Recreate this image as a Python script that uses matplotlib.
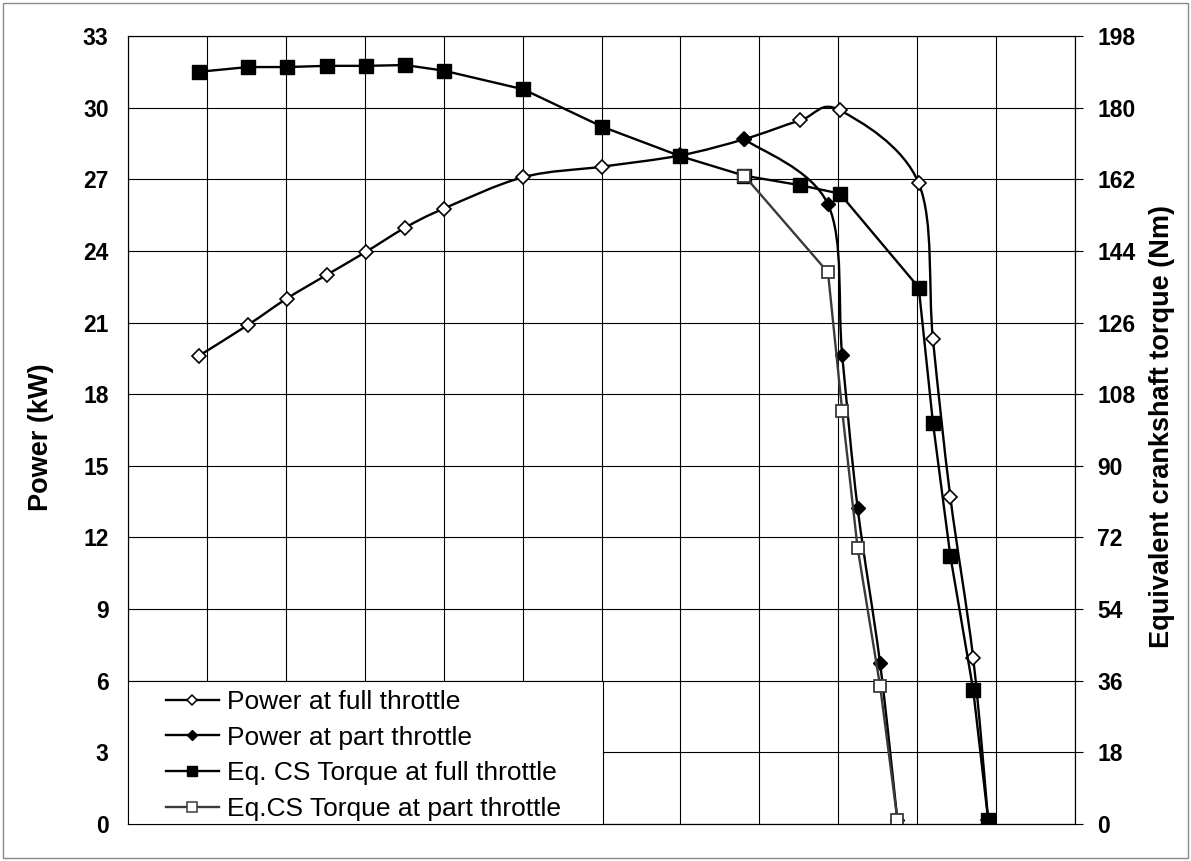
import matplotlib
matplotlib.use("Agg")
import matplotlib.pyplot as plt
import numpy as np
from matplotlib.lines import Line2D
from matplotlib.patches import PathPatch, Rectangle
from matplotlib.path import Path

plt.rcParams["font.family"] = "Liberation Sans"

# Values (x is in grid-line units, the chart shows no speed labels)
x_full = [0.895, 1.52, 2.01, 2.52, 3.01, 3.51, 4.00, 5.01, 6.01, 7.00, 7.81, 8.52,
          9.02, 10.02, 10.20, 10.42, 10.71, 10.90]
power_full = [19.6, 20.9, 22.0, 23.0, 23.95, 24.97, 25.77, 27.09, 27.53, 28.0, 28.68, 29.47,
              29.89, 26.83, 20.3, 13.7, 6.94, 0.15]
torque_full = [189.0, 190.2, 190.2, 190.5, 190.5, 190.7, 189.3, 184.6, 175.2, 167.8, 162.9, 160.5,
               158.4, 134.8, 100.8, 67.4, 33.7, 1.0]

x_part = [7.81, 8.87, 9.05, 9.245, 9.53, 9.75]
power_part = [28.68, 25.95, 19.63, 13.25, 6.73, 0.15]
torque_part = [162.9, 138.6, 103.8, 69.4, 34.7, 1.0]

power_ticks = np.arange(0, 34, 3)
torque_ticks = np.arange(0, 199, 18)

labels = ["Power at full throttle", "Power at part throttle",
          "Eq. CS Torque at full throttle", "Eq.CS Torque at part throttle"]


# Excel-style smoothed line: Catmull-Rom segments drawn as cubic Bezier curves
def smooth_path(x, y):
    pts = np.column_stack([x, y])
    n = len(pts)
    verts = [pts[0]]
    codes = [Path.MOVETO]
    for i in range(n - 1):
        p0 = pts[max(i - 1, 0)]
        p1 = pts[i]
        p2 = pts[i + 1]
        p3 = pts[min(i + 2, n - 1)]
        verts += [p1 + (p2 - p0) / 6, p2 - (p3 - p1) / 6, p2]
        codes += [Path.CURVE4] * 3
    return Path(verts, codes)


fig = plt.figure(figsize=(11.91, 8.61), dpi=100)
ax = fig.add_axes([128 / 1191, 37 / 861, 947 / 1191, 788 / 861])
ax2 = ax.twinx()

# power curves (left axis)
ax.add_patch(PathPatch(smooth_path(x_full, power_full), fill=False, ec="black", lw=1.7))
ax.plot(x_full, power_full, ls="none", marker="D", ms=7, mfc="white", mec="black", mew=1.2)
ax.add_patch(PathPatch(smooth_path(x_part, power_part), fill=False, ec="black", lw=1.7))
ax.plot(x_part, power_part, ls="none", marker="D", ms=6.8, mfc="black", mec="black", mew=1.0)

# torque curves (right axis)
ax2.plot(x_full, torque_full, color="black", lw=1.7, marker="s", ms=10, mfc="black", mec="black")
ax2.plot(x_part, torque_part, color="#3a3a3a", lw=1.7, marker="s", ms=9.3,
         mfc="white", mec="#3a3a3a", mew=1.3)

ax.set_xlim(0, 12)
ax.set_xticks(range(13))
ax.tick_params(axis="x", length=0, labelbottom=False)
ax.set_ylim(0, 33)
ax.set_yticks(power_ticks)
ax.tick_params(axis="y", length=0, pad=14, labelsize=16.5)
ax.grid(True, color="black", lw=0.8)
ax.set_axisbelow(True)

ax2.set_ylim(0, 198)
ax2.set_yticks(torque_ticks)
ax2.tick_params(axis="y", direction="out", length=6, width=0.8, pad=10, labelsize=16.5)

for a in (ax, ax2):
    for lbl in a.get_yticklabels():
        lbl.set_fontweight("bold")
    for sp in a.spines.values():
        sp.set_color("black")
        sp.set_linewidth(0.8)

fig.text(41 / 1191, 1 - 437 / 861, "Power (kW)", rotation=90, ha="center", va="center",
         fontsize=19.5, fontweight="bold")
fig.text(1162 / 1191, 1 - 426 / 861, "Equivalent crankshaft torque (Nm)", rotation=90,
         ha="center", va="center", fontsize=19.5, fontweight="bold")

# legend box in the lower left corner
ax2.add_patch(Rectangle((0, 0), 475 / 947, 143 / 788, transform=ax2.transAxes,
                        facecolor="white", edgecolor="black", lw=0.8, zorder=4))
handles = [
    Line2D([], [], color="black", lw=1.7, marker="D", ms=5.2, mfc="white", mec="black", mew=1.1),
    Line2D([], [], color="black", lw=1.7, marker="D", ms=5.2, mfc="black", mec="black"),
    Line2D([], [], color="black", lw=1.7, marker="s", ms=7.5, mfc="black", mec="black"),
    Line2D([], [], color="#3a3a3a", lw=1.7, marker="s", ms=7, mfc="white", mec="#3a3a3a", mew=1.1),
]
leg = ax2.legend(handles, labels, loc="upper left", bbox_to_anchor=(38 / 947, 134 / 788),
                 frameon=False, fontsize=19, handlelength=2.0, handletextpad=0.3,
                 labelspacing=0.44, borderpad=0, borderaxespad=0)
leg.set_zorder(5)

# thin grey frame around the whole chart
fig.add_artist(Rectangle((3 / 1191, 3 / 861), 1185 / 1191, 855 / 861, transform=fig.transFigure,
                         fill=False, edgecolor="#888888", lw=1))

fig.savefig("out.png", dpi=100)
